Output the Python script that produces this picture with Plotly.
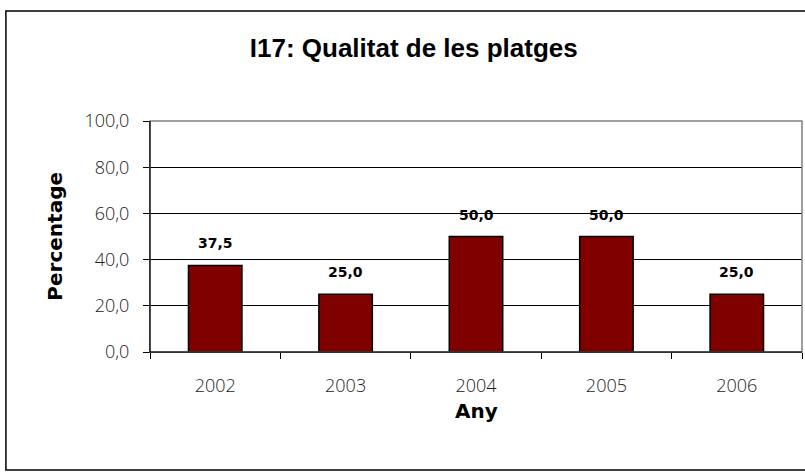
import plotly.graph_objects as go

years = ["2002", "2003", "2004", "2005", "2006"]
values = [37.5, 25.0, 50.0, 50.0, 25.0]
labels = ["37,5", "25,0", "50,0", "50,0", "25,0"]
ytick_vals = [0, 20, 40, 60, 80, 100]
ytick_text = ["0,0", "20,0", "40,0", "60,0", "80,0", "100,0"]

fig = go.Figure()
fig.add_trace(go.Bar(
    x=years, y=values, width=0.41,
    marker=dict(color="#800000", line=dict(color="#000000", width=1.5)),
    hoverinfo="x+y",
))

for i, (v, lab) in enumerate(zip(values, labels)):
    fig.add_annotation(x=i, y=v, xref="x", yref="y", text="<b>" + lab + "</b>", showarrow=False,
                       yanchor="bottom", yshift=12,
                       font=dict(family="DejaVu Sans", size=14, color="#000000"))

fig.update_layout(
    width=805, height=474,
    margin=dict(l=150, r=3, t=121, b=122),
    paper_bgcolor="white", plot_bgcolor="white",
    showlegend=False,
    title=dict(text="<b>I17: Qualitat de les platges</b>", x=0.514, xanchor="center",
               y=0.898, yanchor="middle",
               font=dict(family="Liberation Sans, Arial", size=26, color="#000000")),
    font=dict(family="Open Sans"),
)
fig.update_xaxes(
    type="category", showline=True, linecolor="#000000", linewidth=1,
    ticks="outside", tickson="boundaries", ticklen=6, tickcolor="#000000",
    tickfont=dict(family="Open Sans", size=18, color="#222222", weight=300),
    ticklabelstandoff=17, tickangle=0,
    showgrid=False,
)
fig.update_yaxes(
    range=[0, 100], tickvals=ytick_vals, ticktext=ytick_text,
    showline=True, linecolor="#000000", linewidth=1,
    ticks="outside", ticklen=6, tickcolor="#000000",
    tickfont=dict(family="Open Sans", size=18, color="#222222", weight=300),
    ticklabelstandoff=10,
    showgrid=True, gridcolor="#000000", gridwidth=1,
    zeroline=False,
)
# axis titles
fig.add_annotation(xref="paper", yref="paper", x=0.5, y=-0.2554, text="<b>Any</b>",
                   showarrow=False, xanchor="center", yanchor="middle",
                   font=dict(family="DejaVu Sans", size=20, color="#000000"))
fig.add_annotation(xref="paper", yref="paper", x=-0.147, y=0.5, text="<b>Percentage</b>",
                   showarrow=False, xanchor="center", yanchor="middle", textangle=-90,
                   font=dict(family="DejaVu Sans", size=20, color="#000000"))
# plot-area border (gray top/right)
fig.add_shape(type="rect", xref="paper", yref="paper", x0=0, x1=1, y0=0, y1=1,
              line=dict(color="#808080", width=1.5), layer="above")
fig.add_shape(type="line", xref="paper", yref="paper", x0=0, x1=0, y0=0, y1=1,
              line=dict(color="#000000", width=1), layer="above")
fig.add_shape(type="line", xref="paper", yref="paper", x0=0, x1=1, y0=0, y1=0,
              line=dict(color="#000000", width=1), layer="above")
# outer chart border
fig.add_shape(type="rect", xref="paper", yref="paper", x0=-0.221, x1=1.01, y0=-0.511, y1=1.476,
              line=dict(color="#000000", width=1.5), layer="above")

fig.write_html("out.html", config={"displayModeBar": False},
               post_script="document.body.style.margin='0';document.body.style.overflow='hidden';")
